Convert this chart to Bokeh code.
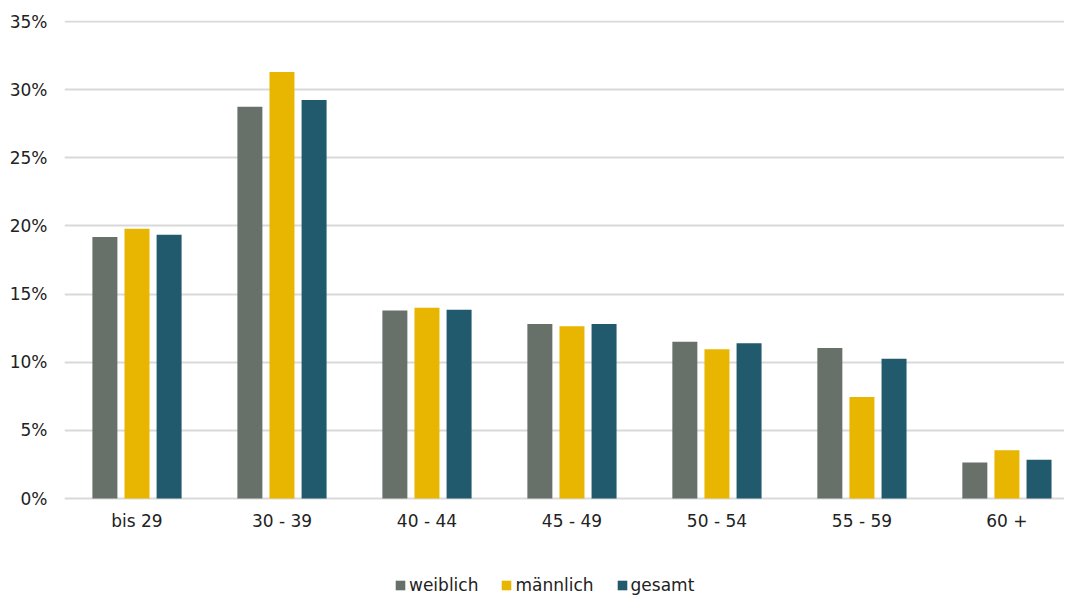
from bokeh.plotting import figure
from bokeh.models import FixedTicker, PrintfTickFormatter, Range1d, Legend, LegendItem
from bokeh.embed import file_html
from bokeh.resources import INLINE
import numpy as np

categories = ["bis 29", "30 - 39", "40 - 44", "45 - 49", "50 - 54", "55 - 59", "60 +"]
weiblich = [19.2, 28.75, 13.8, 12.8, 11.5, 11.05, 2.65]
maennlich = [19.8, 31.3, 14.0, 12.65, 10.95, 7.45, 3.55]
gesamt = [19.35, 29.25, 13.85, 12.8, 11.4, 10.25, 2.85]
series_names = ["weiblich", "männlich", "gesamt"]
colors = ["#677169", "#E8B500", "#215A6D"]
y_ticks = [0, 5, 10, 15, 20, 25, 30, 35]

FONT = "DejaVu Sans"
TEXT = "#222222"

p = figure(frame_width=1000, frame_height=576, output_backend="svg", toolbar_location=None,
           x_range=Range1d(-0.5, 6.397), y_range=Range1d(-7.19, 35.08),
           min_border_left=64, min_border_right=0, min_border_top=20, min_border_bottom=0)

idx = np.arange(len(categories))
offsets = [-0.2214, 0.0, 0.2214]
renderers = []
for vals, off, col in zip([weiblich, maennlich, gesamt], offsets, colors):
    r = p.vbar(x=idx + off, top=vals, width=0.1724, bottom=0, fill_color=col, line_color=None)
    renderers.append(r)

p.outline_line_color = None
p.xgrid.grid_line_color = None
p.ygrid.grid_line_color = "#d9d9d9"
p.ygrid.grid_line_width = 2
p.ygrid.ticker = FixedTicker(ticks=y_ticks)

p.yaxis.ticker = FixedTicker(ticks=y_ticks)
p.yaxis.formatter = PrintfTickFormatter(format="%d%%")
p.yaxis.axis_line_color = None
p.yaxis.major_tick_line_color = None
p.yaxis.minor_tick_line_color = None
p.yaxis.major_label_standoff = 11
p.yaxis.major_label_text_font = FONT
p.yaxis.major_label_text_font_size = "17px"
p.yaxis.major_label_text_color = TEXT

p.xaxis.fixed_location = 0
p.xaxis.ticker = FixedTicker(ticks=list(range(len(categories))))
p.xaxis.major_label_overrides = {i: c for i, c in enumerate(categories)}
p.xaxis.axis_line_color = None
p.xaxis.major_tick_line_color = None
p.xaxis.minor_tick_line_color = None
p.xaxis.major_label_standoff = 6
p.xaxis.major_label_text_font = FONT
p.xaxis.major_label_text_font_size = "17px"
p.xaxis.major_label_text_color = TEXT

legend = Legend(items=[LegendItem(label=n, renderers=[r]) for n, r in zip(series_names, renderers)],
                orientation="horizontal", location=(330, 1),
                glyph_width=12, glyph_height=12, label_standoff=3, spacing=22,
                label_height=20, padding=0, margin=0,
                border_line_color=None, background_fill_alpha=0,
                label_text_font=FONT, label_text_font_size="17px", label_text_color=TEXT)
p.add_layout(legend, "center")

open("out.html", "w").write(file_html(p, INLINE))
